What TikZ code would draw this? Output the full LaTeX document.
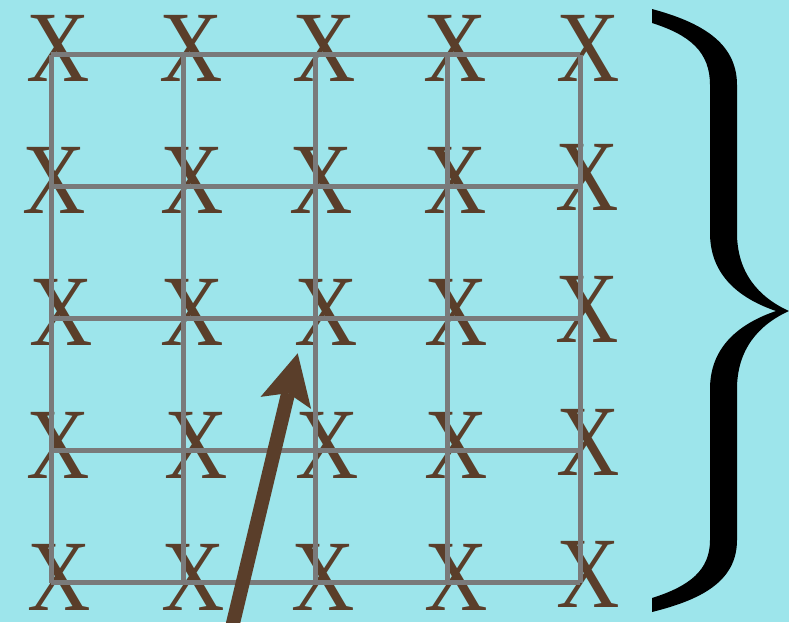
\documentclass[tikz,border=0pt]{standalone}
\usepackage{fontspec}
\setmainfont{Liberation Serif}
\usepackage{tikz}
\usetikzlibrary{arrows.meta, positioning}
\definecolor{bgcyan}{RGB}{157,229,235}
\definecolor{xbrown}{RGB}{90,62,42}
\definecolor{gridgray}{RGB}{122,122,122}
\tikzset{
    every node/.style={inner sep=0pt},
    xmark/.style={text=xbrown, font=\fontsize{101}{101}\selectfont},
    gridline/.style={draw=gridgray, line width=5pt},
    arr/.style={draw=xbrown, line width=14pt,
        -{Stealth[length=51pt, width=52pt, inset=10pt, line width=0pt]}
    }
}
\newcommand{\xx}{\scalebox{0.87}[1]{X}}

\begin{document}
\begin{tikzpicture}[x=1pt, y=-1pt]
    \fill[bgcyan] (0,0) rectangle (789,622);
    \useasboundingbox (0,0) rectangle (789,622);

    % letters
    \node[xmark] (x11) at (58,48) {\xx};
    \node[xmark] (x12) at (191,48) {\xx};
    \node[xmark] (x13) at (324.5,48) {\xx};
    \node[xmark] (x14) at (455.5,48) {\xx};
    \node[xmark] (x15) at (588,48) {\xx};
    \node[xmark] (x21) at (54.5,180) {\xx};
    \node[xmark] (x22) at (192,180) {\xx};
    \node[xmark] (x23) at (321,180) {\xx};
    \node[xmark] (x24) at (455,180) {\xx};
    \node[xmark] (x25) at (587,177) {\xx};
    \node[xmark] (x31) at (61,312) {\xx};
    \node[xmark] (x32) at (192,312) {\xx};
    \node[xmark] (x33) at (326,312) {\xx};
    \node[xmark] (x34) at (456,312) {\xx};
    \node[xmark] (x35) at (587,309) {\xx};
    \node[xmark] (x41) at (58,445) {\xx};
    \node[xmark] (x42) at (196,445) {\xx};
    \node[xmark] (x43) at (327,445) {\xx};
    \node[xmark] (x44) at (456,445) {\xx};
    \node[xmark] (x45) at (588,442) {\xx};
    \node[xmark] (x51) at (59,577) {\xx};
    \node[xmark] (x52) at (193.5,577) {\xx};
    \node[xmark] (x53) at (323,577) {\xx};
    \node[xmark] (x54) at (456,577) {\xx};
    \node[xmark] (x55) at (588,574) {\xx};

    % grid
    \foreach \i in {1,...,5} {
        \foreach \j in {1,...,5} {
            \coordinate (g\i\j) at ({51+132.25*(\j-1)}, {54.5+132.1*(\i-1)});
        }
    }
    \foreach \i in {1,...,5} {
        \draw[gridline] (g\i1) -- (g\i5);
        \draw[gridline] (g1\i) -- (g5\i);
    }

    % pointer
    \coordinate (tail) at (229,640);
    \coordinate (head) at (297.7,353.3);
    \draw[arr] (tail) -- (head);

    % brace
    \fill[black] (652,9) .. controls (700,22) and (737,42) .. (737,85)
        -- (737,233) .. controls (737,272) and (758,297) .. (789,311)
        .. controls (758,325) and (737,350) .. (737,389)
        -- (737,540) .. controls (737,582) and (700,600) .. (652,612)
        -- (652,598) .. controls (690,586) and (710,570) .. (710,540)
        -- (710,389) .. controls (710,350) and (735,325) .. (776,311)
        .. controls (735,297) and (710,272) .. (710,233)
        -- (710,85) .. controls (710,52) and (690,35) .. (652,23) -- cycle;
\end{tikzpicture}
\end{document}
